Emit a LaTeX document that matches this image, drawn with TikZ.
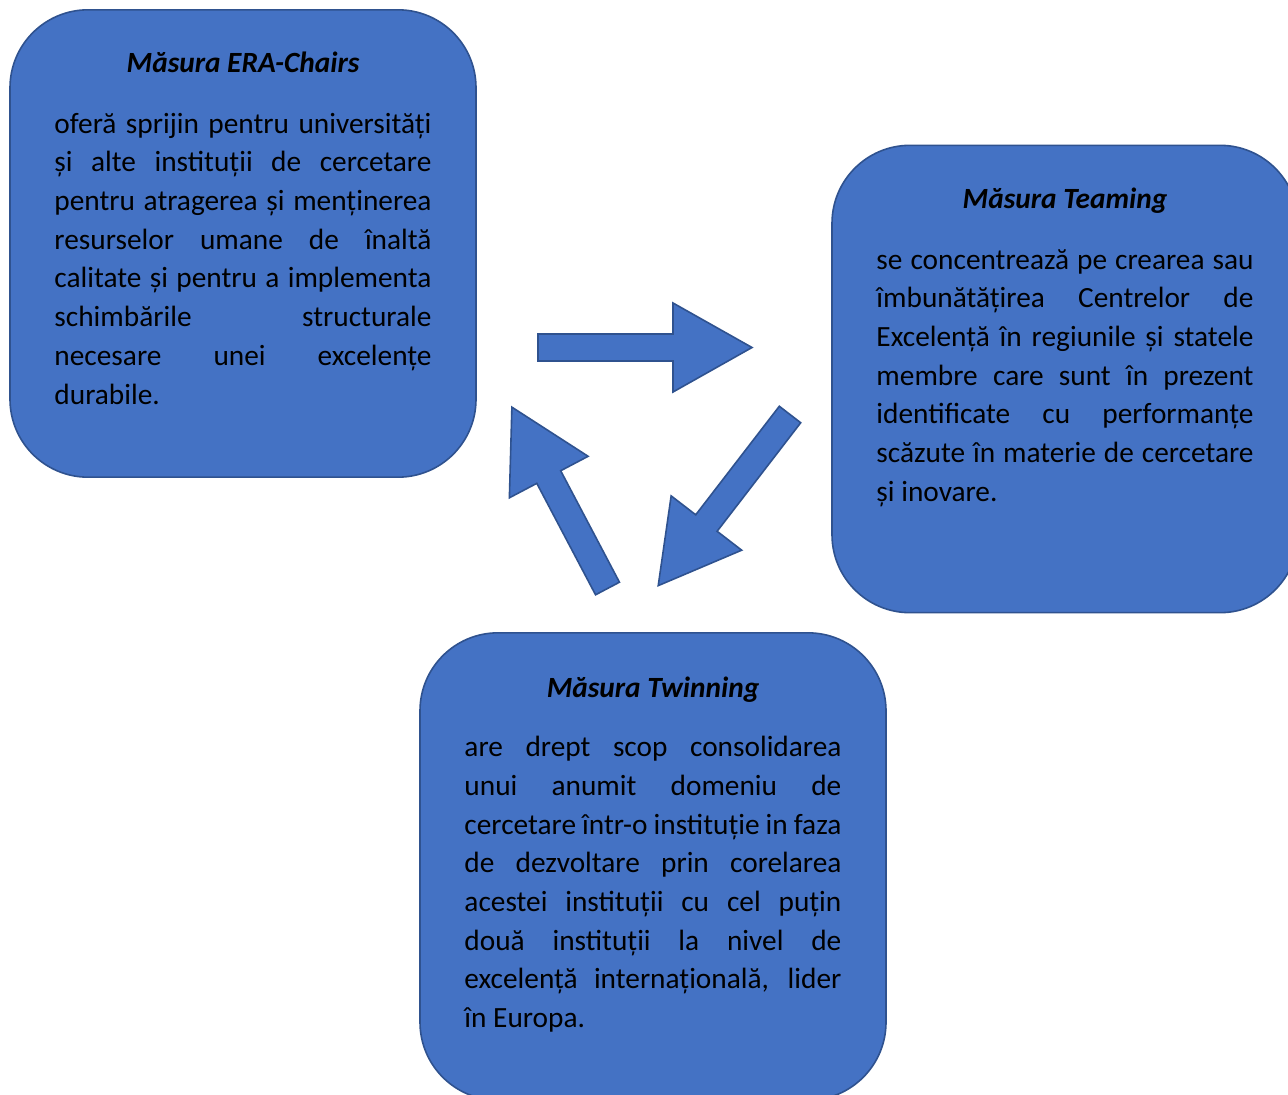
\documentclass[tikz,border=0pt]{standalone}
\usepackage{fontspec}
\setmainfont{Carlito}
\usetikzlibrary{calc}
\definecolor{boxfill}{HTML}{4472C4}
\definecolor{boxline}{HTML}{2F528F}
\newcommand{\bodyfont}{\fontsize{22pt}{29.05pt}\selectfont}
\newcommand{\blockarrow}[3]{%
  \begin{scope}[shift={(#1)}, rotate=#2]
    \draw[arrowshape] (0,-13.5) -- ({#3-79},-13.5) -- ({#3-79},-44.5) -- (#3,0)
      -- ({#3-79},44.5) -- ({#3-79},13.5) -- (0,13.5) -- cycle;
  \end{scope}}
\tikzset{
  box/.style={draw=boxline, fill=boxfill, line width=1.2pt, rounded corners=58.5pt,
    minimum width=349.5pt, minimum height=350.5pt, inner sep=0pt},
  ttl/.style={font=\bodyfont\bfseries\itshape, inner sep=0pt, anchor=base},
  bodytext/.style={font=\bodyfont, inner sep=0pt, anchor=base west},
  arrowshape/.style={draw=boxline, fill=boxfill, line width=1.2pt, line join=miter},
}
\begin{document}
\begin{tikzpicture}[x=0.75pt, y=-0.75pt]
\useasboundingbox (0,0) rectangle (1288,1095);
\clip (0,0) rectangle (1288,1095);
\fill[white] (0,0) rectangle (1288,1095);

% boxes
\node[box] (era) at (243,243.5) {};
\node[box] (team) at (1065,379) {};
\node[box] (twin) at (653,866.5) {};

% titles
\node[ttl] (era-t) at ($(era.north)+(0,63.5)$) {Măsura ERA-Chairs};
\node[ttl] (team-t) at ($(team.north)+(0,64)$) {Măsura Teaming};
\node[ttl] (twin-t) at ($(twin.north)+(0,65)$) {Măsura Twinning};

% body texts
\node[bodytext] (era-b) at ($(era.north west)+(45,124)$) {\parbox[t]{282.75pt}{\bodyfont\hyphenpenalty=10000
oferă sprijin pentru universități\linebreak
și alte instituții de cercetare\linebreak
pentru atragerea și menținerea\linebreak
resurselor umane de înaltă\linebreak
calitate și pentru a implementa\linebreak
schimbările structurale\linebreak
necesare unei excelențe\linebreak
durabile.}};

\node[bodytext] (team-b) at ($(team.north west)+(45,124.5)$) {\parbox[t]{282.75pt}{\bodyfont\hyphenpenalty=10000
se concentrează pe crearea sau\linebreak
îmbunătățirea Centrelor de\linebreak
Excelență în regiunile și statele\linebreak
membre care sunt în prezent\linebreak
identificate cu performanțe\linebreak
scăzute în materie de cercetare\linebreak
și inovare.}};

\node[bodytext] (twin-b) at ($(twin.north west)+(45,124.5)$) {\parbox[t]{282.75pt}{\bodyfont\hyphenpenalty=10000
are drept scop consolidarea\linebreak
unui anumit domeniu de\linebreak
cercetare într-o instituție in faza\linebreak
de dezvoltare prin corelarea\linebreak
acestei instituții cu cel puțin\linebreak
două instituții la nivel de\linebreak
excelență internațională, lider\linebreak
în Europa.}};

% block arrows
\blockarrow{538,347.5}{0}{214}
\blockarrow{790,414.5}{-127.6}{216}
\blockarrow{607.5,588.5}{117.8}{205}
\end{tikzpicture}
\end{document}
